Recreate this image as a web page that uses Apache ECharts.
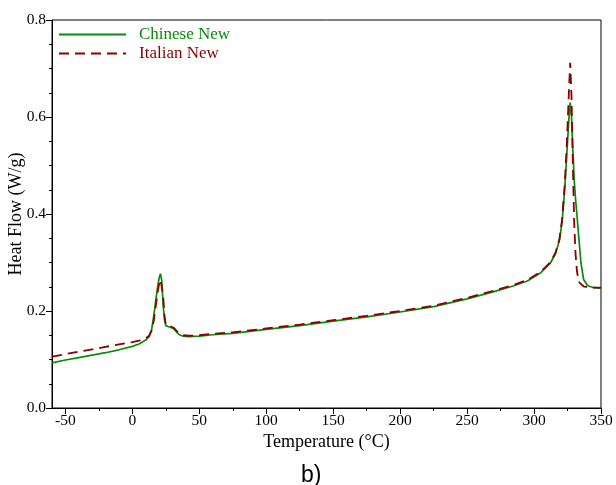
<!DOCTYPE html>
<html>
<head>
<meta charset="utf-8">
<script src="https://cdn.jsdelivr.net/npm/echarts@6/dist/echarts.min.js"></script>
<style>
  html, body { margin: 0; padding: 0; background: #fff; }
  #chart { width: 616px; height: 485px; }
</style>
</head>
<body>
<div id="chart"></div>
<script>
// DSC heat-flow curves (W/g) against temperature (°C)
const temps = [-60, -50, -40, -30, -20, -10, 0,
  5, 10, 12.5, 14.5, 16, 17.5, 19, 20, 21, 22,
  23, 24, 25, 26.5, 29, 31, 33, 35, 38, 42,
  50, 60, 75, 100, 125, 150, 175, 200, 225, 250,
  270, 285, 295, 305, 312, 316, 319, 321, 323, 324.5,
  326, 327, 328, 329, 330, 331, 332, 333, 334, 335,
  337, 340, 345, 350];

const chineseNew = [0.093, 0.099, 0.104, 0.109, 0.114, 0.120, 0.127,
  0.132, 0.140, 0.147, 0.163, 0.190, 0.222, 0.252, 0.268, 0.277, 0.262,
  0.212, 0.182, 0.170, 0.168, 0.166, 0.163, 0.157, 0.151, 0.148, 0.147,
  0.148, 0.151, 0.154, 0.162, 0.170, 0.179, 0.188, 0.198, 0.209, 0.225,
  0.240, 0.252, 0.262, 0.279, 0.298, 0.318, 0.346, 0.385, 0.455, 0.525,
  0.595, 0.630, 0.600, 0.530, 0.470, 0.430, 0.400, 0.365, 0.333, 0.300,
  0.265, 0.252, 0.248, 0.247];

const italianNew = [0.106, 0.111, 0.116, 0.121, 0.126, 0.131, 0.136,
  0.139, 0.144, 0.149, 0.160, 0.180, 0.210, 0.240, 0.256, 0.265, 0.266,
  0.232, 0.190, 0.172, 0.169, 0.168, 0.165, 0.159, 0.153, 0.150, 0.149,
  0.150, 0.153, 0.156, 0.164, 0.172, 0.181, 0.190, 0.200, 0.211, 0.227,
  0.242, 0.254, 0.264, 0.281, 0.300, 0.320, 0.349, 0.390, 0.465, 0.545,
  0.650, 0.712, 0.640, 0.500, 0.380, 0.318, 0.283, 0.266, 0.258, 0.254,
  0.251, 0.249, 0.248, 0.248];

const xMajorTicks = [-50, 0, 50, 100, 150, 200, 250, 300, 350];
const xMinorTicks = [-25, 25, 75, 125, 175, 225, 275, 325];

const seriesNames = ['Chinese New', 'Italian New'];
const seriesColors = ['#0a8a0a', '#8b0000'];

const FONT = '"Liberation Serif", "DejaVu Serif", serif';

const chart = echarts.init(document.getElementById('chart'), null, { renderer: 'canvas' });

const pairs = vals => temps.map((t, i) => [t, vals[i]]);

chart.setOption({
  animation: false,
  backgroundColor: '#fff',
  title: {
    text: 'b)',
    left: 296,
    top: 459,
    textStyle: { fontFamily: '"Liberation Sans", "Open Sans", sans-serif', fontSize: 23, fontWeight: 'normal', color: '#000' }
  },
  legend: {
    orient: 'vertical',
    left: 53,
    top: 21,
    padding: 5,
    itemWidth: 67,
    itemHeight: 10,
    itemGap: 2,
    itemStyle: { opacity: 0 },
    textStyle: { fontFamily: FONT, fontSize: 17, padding: [0, 0, 0, 8] },
    data: [
      { name: seriesNames[0], textStyle: { color: seriesColors[0] } },
      { name: seriesNames[1], textStyle: { color: seriesColors[1] } }
    ]
  },
  grid: {
    left: 52, right: 15, top: 20, bottom: 77,
    outerBoundsMode: 'none',
    containLabel: false,
    show: true, borderColor: '#000', borderWidth: 1, backgroundColor: 'transparent'
  },
  xAxis: [{
    type: 'value',
    min: -60, max: 350,
    name: 'Temperature (°C)',
    nameLocation: 'middle',
    nameGap: 25,
    nameMoveOverlap: false,
    nameTextStyle: { fontFamily: FONT, fontSize: 18, color: '#000' },
    axisLine: { show: true, onZero: false, lineStyle: { color: '#000', width: 1 } },
    axisTick: { show: true, length: 6, customValues: xMajorTicks, lineStyle: { color: '#000' } },
    axisLabel: { customValues: xMajorTicks, fontFamily: FONT, fontSize: 15.5, color: '#000', margin: 5 },
    splitLine: { show: false }
  }, {
    type: 'value',
    position: 'bottom',
    min: -60, max: 350,
    axisLine: { show: false, onZero: false },
    axisTick: { show: true, length: 3, customValues: xMinorTicks, lineStyle: { color: '#000' } },
    axisLabel: { show: false },
    splitLine: { show: false }
  }],
  yAxis: {
    type: 'value',
    min: 0, max: 0.8, interval: 0.2,
    name: 'Heat Flow (W/g)',
    nameLocation: 'middle',
    nameGap: 27,
    nameMoveOverlap: false,
    nameTextStyle: { fontFamily: FONT, fontSize: 18, color: '#000' },
    axisLine: { show: true, onZero: false, lineStyle: { color: '#000', width: 1 } },
    axisTick: { show: true, length: 6, lineStyle: { color: '#000' } },
    minorTick: { show: true, splitNumber: 4, length: 3, lineStyle: { color: '#000' } },
    axisLabel: { fontFamily: FONT, fontSize: 15.5, color: '#000', margin: 6, formatter: v => v.toFixed(1) },
    splitLine: { show: false }
  },
  series: [{
    name: seriesNames[0],
    type: 'line',
    xAxisIndex: 0,
    data: pairs(chineseNew),
    showSymbol: false,
    symbol: 'none',
    color: seriesColors[0],
    lineStyle: { color: seriesColors[0], width: 1.7, type: 'solid' }
  }, {
    name: seriesNames[1],
    type: 'line',
    xAxisIndex: 0,
    data: pairs(italianNew),
    showSymbol: false,
    symbol: 'none',
    color: seriesColors[1],
    lineStyle: { color: seriesColors[1], width: 1.8, type: [10, 6] }
  }]
});
</script>
</body>
</html>
